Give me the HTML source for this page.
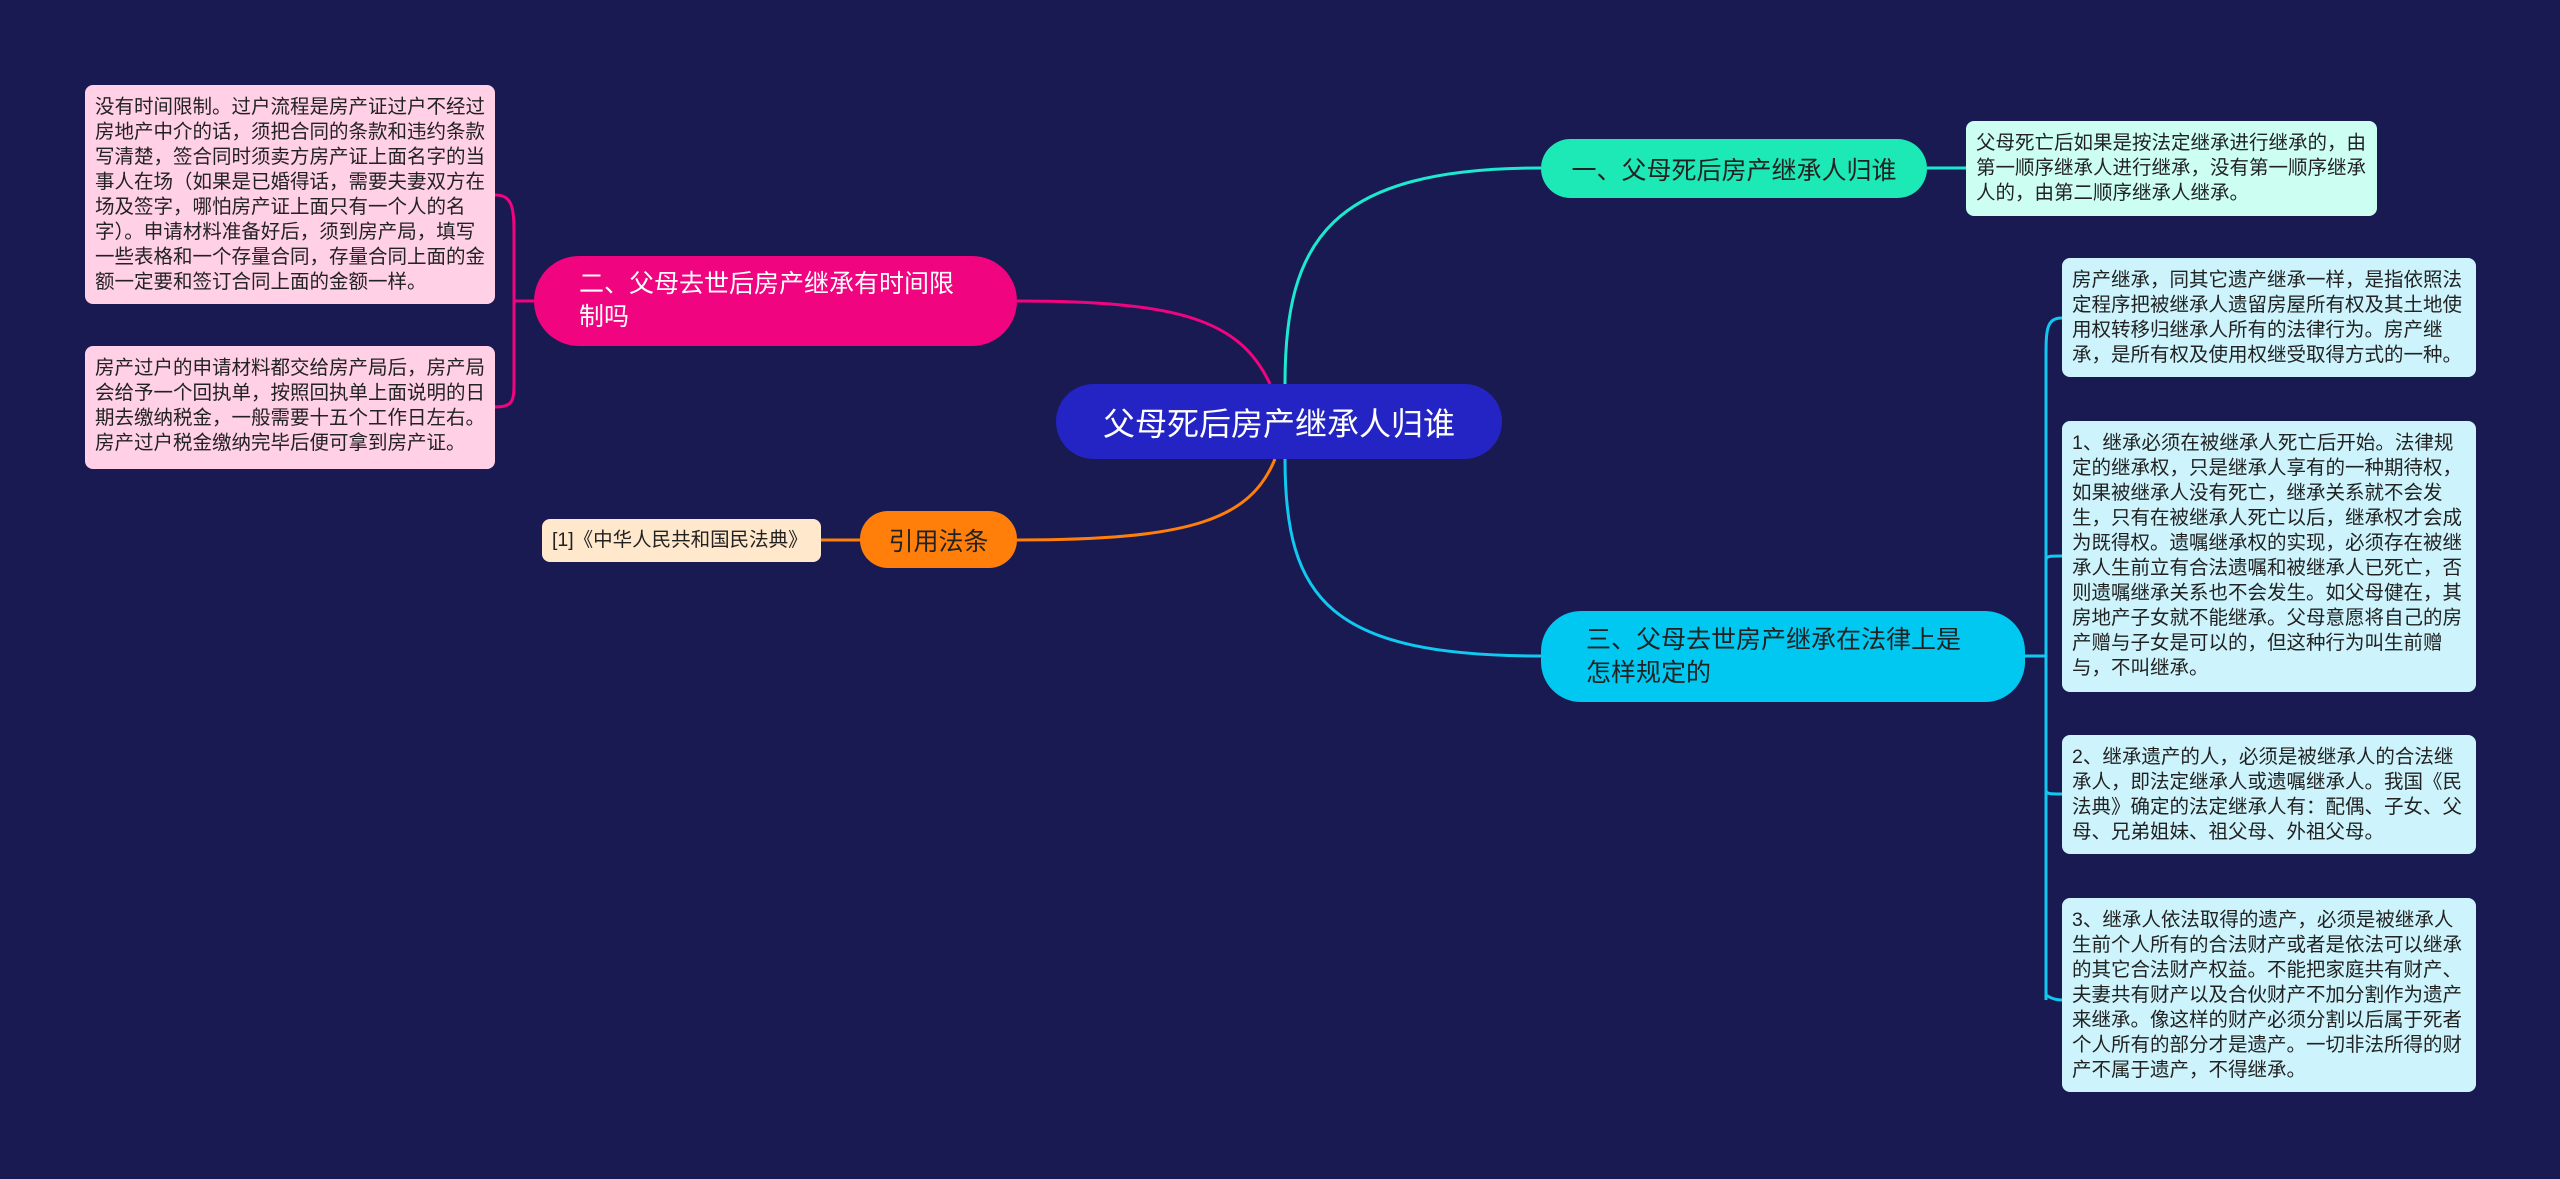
<!DOCTYPE html>
<html><head><meta charset="utf-8"><style>
body{margin:0;width:2560px;height:1179px;background:#1a1a52;position:relative;overflow:hidden;font-family:"Liberation Sans","Noto Sans CJK SC",sans-serif;}
.n{position:absolute;box-sizing:border-box;display:flex;align-items:center;}
.leaf{position:absolute;box-sizing:border-box;border-radius:8px;padding:8px 10px;font-size:19.5px;line-height:25px;color:#222;word-break:break-all;}
svg{position:absolute;left:0;top:0}
</style></head><body>
<svg width="2560" height="1179" fill="none" stroke-width="3">
<path d="M1285 384 C1285 240 1330 168 1541 168" stroke="#1de9d0"/>
<path d="M1927 168 L1966 168" stroke="#1de9d0"/>
<path d="M1285 459 C1285 600 1330 656 1541 656" stroke="#10c8f0"/>
<path d="M2025 656 L2046 656" stroke="#10c8f0"/>
<path d="M2062 318 C2046 318 2046 330 2046 360 L2046 1000 C2046 990 2046 1000 2062 1000" stroke="#10c8f0"/>
<path d="M2046 560 C2046 556 2050 556 2062 556 M2046 790 C2046 794 2050 794 2062 794" stroke="#10c8f0"/>
<path d="M1270 384 C1240 320 1180 301 1017 301" stroke="#f0047f"/>
<path d="M534 301 L514 301" stroke="#f0047f"/>
<path d="M495 195 C514 195 514 210 514 240 L514 380 C514 400 514 407 495 407" stroke="#f0047f"/>
<path d="M1275 459 C1250 520 1190 540 1017 540" stroke="#ff7f0a"/>
<path d="M860 540 L821 540" stroke="#ff7f0a"/>
</svg>
<div class="n" style="left:1056px;top:384px;width:446px;height:75px;background:#2424c4;border-radius:38px;justify-content:center;color:#fff;font-size:32px;">父母死后房产继承人归谁</div>
<div class="n" style="left:1541px;top:139px;width:386px;height:59px;background:#1de9b6;border-radius:30px;justify-content:center;color:#222;font-size:25px;">一、父母死后房产继承人归谁</div>
<div class="n" style="left:1541px;top:611px;width:484px;height:91px;background:#00c8f0;border-radius:40px;padding-left:45px;color:#222;font-size:25px;line-height:33px;">三、父母去世房产继承在法律上是<br>怎样规定的</div>
<div class="n" style="left:534px;top:256px;width:483px;height:90px;background:#f0047f;border-radius:45px;padding-left:45px;color:#fff;font-size:25px;line-height:33px;">二、父母去世后房产继承有时间限<br>制吗</div>
<div class="n" style="left:860px;top:511px;width:157px;height:57px;background:#ff7f0a;border-radius:28px;justify-content:center;color:#222;font-size:25px;">引用法条</div>
<div class="leaf" style="left:542px;top:519px;width:279px;height:43px;background:#ffe8cc;padding:6px 10px;line-height:30px;">[1]《中华人民共和国民法典》</div>
<div class="leaf" style="left:1966px;top:121px;width:411px;height:95px;background:#ccfff2;padding-top:10px;">父母死亡后如果是按法定继承进行继承的，由第一顺序继承人进行继承，没有第一顺序继承人的，由第二顺序继承人继承。</div>
<div class="leaf" style="left:2062px;top:258px;width:414px;height:119px;background:#cdf4fc;padding-top:10px;">房产继承，同其它遗产继承一样，是指依照法定程序把被继承人遗留房屋所有权及其土地使用权转移归继承人所有的法律行为。房产继承，是所有权及使用权继受取得方式的一种。</div>
<div class="leaf" style="left:2062px;top:421px;width:414px;height:271px;background:#cdf4fc;padding-top:10px;">1、继承必须在被继承人死亡后开始。法律规定的继承权，只是继承人享有的一种期待权，如果被继承人没有死亡，继承关系就不会发生，只有在被继承人死亡以后，继承权才会成为既得权。遗嘱继承权的实现，必须存在被继承人生前立有合法遗嘱和被继承人已死亡，否则遗嘱继承关系也不会发生。如父母健在，其房地产子女就不能继承。父母意愿将自己的房产赠与子女是可以的，但这种行为叫生前赠与，不叫继承。</div>
<div class="leaf" style="left:2062px;top:735px;width:414px;height:119px;background:#cdf4fc;padding-top:10px;">2、继承遗产的人，必须是被继承人的合法继承人，即法定继承人或遗嘱继承人。我国《民法典》确定的法定继承人有：配偶、子女、父母、兄弟姐妹、祖父母、外祖父母。</div>
<div class="leaf" style="left:2062px;top:898px;width:414px;height:194px;background:#cdf4fc;padding-top:10px;">3、继承人依法取得的遗产，必须是被继承人生前个人所有的合法财产或者是依法可以继承的其它合法财产权益。不能把家庭共有财产、夫妻共有财产以及合伙财产不加分割作为遗产来继承。像这样的财产必须分割以后属于死者个人所有的部分才是遗产。一切非法所得的财产不属于遗产，不得继承。</div>
<div class="leaf" style="left:85px;top:85px;width:410px;height:219px;background:#ffd0e6;padding-top:10px;">没有时间限制。过户流程是房产证过户不经过房地产中介的话，须把合同的条款和违约条款写清楚，签合同时须卖方房产证上面名字的当事人在场（如果是已婚得话，需要夫妻双方在场及签字，哪怕房产证上面只有一个人的名字）。申请材料准备好后，须到房产局，填写一些表格和一个存量合同，存量合同上面的金额一定要和签订合同上面的金额一样。</div>
<div class="leaf" style="left:85px;top:346px;width:410px;height:123px;background:#ffd0e6;padding-top:10px;">房产过户的申请材料都交给房产局后，房产局会给予一个回执单，按照回执单上面说明的日期去缴纳税金，一般需要十五个工作日左右。房产过户税金缴纳完毕后便可拿到房产证。</div>
</body></html>
